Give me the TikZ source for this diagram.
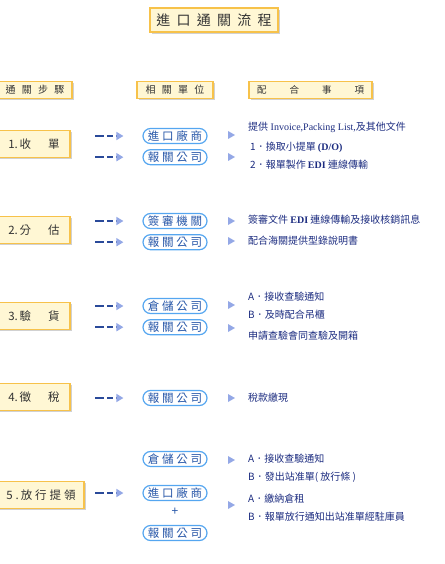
\documentclass[tikz,border=0pt]{standalone}
\usepackage{fontspec}
\setmainfont{Noto Sans CJK TC}
\newfontfamily\latinserif{Liberation Serif}
\usepackage{tikz}
\usetikzlibrary{shadows, positioning, arrows.meta}
\definecolor{boxfill}{HTML}{FFF7D4}
\definecolor{boxline}{HTML}{F7C24A}
\definecolor{steptext}{HTML}{333333}
\definecolor{pillline}{HTML}{55A6F0}
\definecolor{pilltext}{HTML}{2656A8}
\definecolor{itemtext}{HTML}{1C2C80}
\definecolor{dashblue}{HTML}{2A4A9A}
\definecolor{tipblue}{HTML}{94A8E6}
\newcommand{\ls}[1]{\addfontfeatures{LetterSpace=#1}}
\tikzset{
    x=1pt, y=-1pt,% pixel grid of the reference, y going down
    headbox/.style={draw=boxline, fill=boxfill, line width=1.2pt, inner sep=0pt, minimum height=17pt, text=steptext,
        drop shadow={fill=black, opacity=0.18, shadow xshift=1.8pt, shadow yshift=-1.8pt},
        font=\fontsize{9.5}{10}\selectfont},
    stepbox/.style={headbox, minimum width=72pt, minimum height=27pt, font=\fontsize{11.5}{12}\selectfont},
    pill/.style={draw=pillline, fill=white, line width=1.2pt, rounded corners=7.5pt, minimum width=64pt,
        minimum height=15pt, inner sep=0pt, text=pilltext, font=\fontsize{11.5}{12}\selectfont\ls{24}},
    item/.style={anchor=west, inner sep=0pt, text=itemtext, font=\fontsize{10}{10}\selectfont},
    dasharrow/.style={draw=dashblue, line width=1.6pt, dash pattern=on 9pt off 3pt on 6pt off 3pt,
        -{Triangle[length=7pt, width=8pt, color=tipblue]}}
}
\begin{document}
\begin{tikzpicture}
    \useasboundingbox (0,0) rectangle (444,564);
    % title and column heads
    \node[headbox, minimum width=128pt, minimum height=24pt, font=\fontsize{14}{15}\selectfont\ls{45}] (title) at (214,20) {進口通關流程};
    \node[headbox, minimum width=74pt, font=\fontsize{10}{11}\selectfont\ls{62}] (hstep) at (35,90) {通關步驟};
    \node[headbox, minimum width=76pt, font=\fontsize{10}{11}\selectfont\ls{62}] (hunit) at (175,90) {相關單位};
    \node[headbox, minimum width=123pt] (hitem) at (310.5,90) {配\hspace{23pt}合\hspace{23pt}事\hspace{23pt}項};
    % steps
    \node[stepbox] (s1) at (34,144) {1.\,收\hspace{17pt}單};
    \node[stepbox] (s2) at (34,230) {2.\,分\hspace{17pt}估};
    \node[stepbox] (s3) at (34,316) {3.\,驗\hspace{17pt}貨};
    \node[stepbox] (s4) at (34,397) {4.\,徵\hspace{17pt}稅};
    \node[stepbox, minimum width=86pt, font=\fontsize{11.5}{12}\selectfont\ls{26}] (s5) at (41,495) {5.\,放行提領};
    % units
    \node[pill] (p1a) at (175,136) {進口廠商};
    \node[pill] (p1b) [below=5pt of p1a] {報關公司};
    \node[pill] (p2a) at (175,221) {簽審機關};
    \node[pill] (p2b) [below=5pt of p2a] {報關公司};
    \node[pill] (p3a) at (175,306) {倉儲公司};
    \node[pill] (p3b) [below=5pt of p3a] {報關公司};
    \node[pill] (p4a) at (175,398) {報關公司};
    \node[pill] (p5a) at (175,459) {倉儲公司};
    \node[pill] (p5b) at (175,493) {進口廠商};
    \node[text=pilltext, font=\fontsize{12}{12}\selectfont] (plus) at (175,512) {+};
    \node[pill] (p5c) at (175,533) {報關公司};
    % arrows into the units
    \foreach \p in {p1a,p1b,p2a,p2b,p3a,p3b,p4a,p5b}
        \path[dasharrow] ([xshift=-47pt]\p.west) -- ([xshift=-19pt]\p.west);
    % small marks before the items
    \foreach \y in {135,157,221,241,305,328,398,460,505}
        \fill[tipblue] (228,\y-4) -- (235,\y) -- (228,\y+4) -- cycle;
    % items
    \node[item] (t1a) at (248,127) {提供{\latinserif\ Invoice,Packing List,}及其他文件};
    \node[item] (t1b) at (250,147) {1．換取小提單 {\latinserif\bfseries (D/O)}};
    \node[item] (t1c) at (250,165) {2．報單製作 {\latinserif\bfseries EDI} 連線傳輸};
    \node[item] (t2a) at (248,220) {簽審文件 {\latinserif\bfseries EDI} 連線傳輸及接收核銷訊息};
    \node[item] (t2b) at (248,241) {配合海關提供型錄說明書};
    \node[item] (t3a) at (248,297) {A．接收查驗通知};
    \node[item] (t3b) at (248,315) {B．及時配合吊櫃};
    \node[item] (t3c) at (248,336) {申請查驗會同查驗及開箱};
    \node[item] (t4a) at (248,398) {稅款繳現};
    \node[item] (t5a) at (248,459) {A．接收查驗通知};
    \node[item] (t5b) at (248,477) {B．發出站准單( 放行條 )};
    \node[item] (t5c) at (248,499) {A．繳納倉租};
    \node[item] (t5d) at (248,517) {B．報單放行通知出站准單經駐庫員};
\end{tikzpicture}
\end{document}
